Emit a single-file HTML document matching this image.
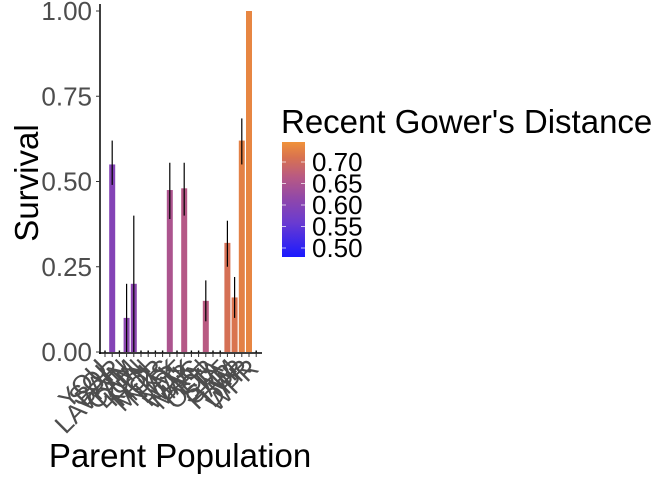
<!DOCTYPE html>
<html><head><meta charset="utf-8"><style>
body{margin:0;background:#fff;font-family:"Liberation Sans",sans-serif;}
svg text{font-family:"Liberation Sans",sans-serif;}
</style></head><body>
<svg id="chart" width="672" height="480" viewBox="0 0 672 480">
<defs><linearGradient id="grad" x1="0" y1="1" x2="0" y2="0">
<stop offset="0" stop-color="#1a1aff"/><stop offset="0.3" stop-color="#6a3bd0"/><stop offset="0.5" stop-color="#8f47ab"/><stop offset="0.7" stop-color="#b95a82"/><stop offset="0.87" stop-color="#d9734f"/><stop offset="1" stop-color="#f0923a"/>
</linearGradient></defs>
<g id="plot"></g>
</svg>
<script>
const categories=["YOU","SOL","BAR","LAVRIN","CAM","DUN","KEN","HOL","MOR","NKS","LAK","NO5","WAK","MAC","PEN","OCR","STA","CH5","HAM","TMP","DPR","WPR"];
const survival=[0,0.55,0,0.10,0.20,0,0,0,0,0.475,0,0.48,0,0,0.15,0,0,0.32,0.16,0.62,1.0,0];
const lower=[0,0.49,0,0,0,0,0,0,0,0.39,0,0.40,0,0,0.09,0,0,0.25,0.10,0.55,1.0,0];
const upper=[0,0.62,0,0.20,0.40,0,0,0,0,0.555,0,0.555,0,0,0.21,0,0,0.385,0.22,0.685,1.0,0];
const distance=[0.5,0.585,0.5,0.595,0.595,0.5,0.5,0.5,0.5,0.635,0.5,0.645,0.5,0.5,0.65,0.5,0.5,0.685,0.69,0.715,0.725,0.5];
const yTicks=[0,0.25,0.5,0.75,1.0];
const yTickLabels=["0.00","0.25","0.50","0.75","1.00"];
const legendTicks=[0.50,0.55,0.60,0.65,0.70];
const legendLabels=["0.50","0.55","0.60","0.65","0.70"];

const NS="http://www.w3.org/2000/svg";
const g=document.getElementById('plot');
const y=v=>352-v*341;
const x=i=>105+i*7.2;
const ly=v=>248-(v-0.5)*430;
function mk(t,a){const e=document.createElementNS(NS,t);for(const k in a)e.setAttribute(k,a[k]);g.appendChild(e);return e;}
const stops=[[0.48,[26,26,255]],[0.55,[106,59,208]],[0.6,[143,71,171]],[0.65,[185,90,130]],[0.69,[217,115,79]],[0.746,[240,146,58]]];
function col(d){for(let i=0;i<stops.length-1;i++){const[a,ca]=stops[i],[b,cb]=stops[i+1];if(d<=b){const t=Math.max(0,(d-a)/(b-a));return `rgb(${ca.map((c,j)=>Math.round(c+(cb[j]-c)*t)).join(',')})`;}}return 'rgb(240,146,58)';}

let e=mk('line',{x1:100,y1:4,x2:100,y2:354,stroke:'#000','stroke-width':1.5});

e=mk('line',{x1:99,y1:353,x2:262,y2:353,stroke:'#000','stroke-width':1.5});

yTicks.forEach((v,i)=>{
  e=mk('line',{x1:96,y1:y(v),x2:100,y2:y(v),stroke:'#333','stroke-width':1});
  
  e=mk('text',{x:92,y:y(v)+9,'text-anchor':'end','font-size':26,fill:'#4d4d4d'});
  e.textContent=yTickLabels[i];
  
});
categories.forEach((c,i)=>{
  const cx=x(i);
  e=mk('line',{x1:cx,y1:353,x2:cx,y2:357,stroke:'#333','stroke-width':1});
  
  e=mk('text',{x:cx+4,y:370,'text-anchor':'end','font-size':26,fill:'#4d4d4d',transform:`rotate(-45 ${cx+4} 370)`});
  e.textContent=c;
  
  if(survival[i]>0){
    e=mk('rect',{x:cx-3,y:y(survival[i]),width:6,height:352-y(survival[i]),fill:col(distance[i])});
    
  }
  if(upper[i]>lower[i]){
    e=mk('line',{x1:cx,y1:y(lower[i]),x2:cx,y2:y(upper[i]),stroke:'#000','stroke-width':1.2});
    
  } else if(survival[i]===0){
    e=mk('rect',{x:cx-0.7,y:350.5,width:1.4,height:1.8,fill:'#000'});
    
  }
});
e=mk('text',{x:38,y:183,'text-anchor':'middle','font-size':33,fill:'#000',transform:'rotate(-90 38 183)'});
e.textContent='Survival';
e=mk('text',{x:180,y:467,'text-anchor':'middle','font-size':33,fill:'#000'});
e.textContent='Parent Population';
e=mk('text',{x:281,y:133,'font-size':33,fill:'#000'});
e.textContent="Recent Gower's Distance";
e=mk('rect',{x:282,y:142,width:23,height:115,fill:'url(#grad)'});

legendTicks.forEach((v,i)=>{
  e=mk('line',{x1:282,y1:ly(v),x2:286,y2:ly(v),stroke:'#fff','stroke-width':1,opacity:0.7});
  
  e=mk('line',{x1:301,y1:ly(v),x2:305,y2:ly(v),stroke:'#fff','stroke-width':1,opacity:0.7});
  
  e=mk('text',{x:312,y:ly(v)+9,'font-size':26,fill:'#000'});
  e.textContent=legendLabels[i];
  
});
</script>
</body></html>
